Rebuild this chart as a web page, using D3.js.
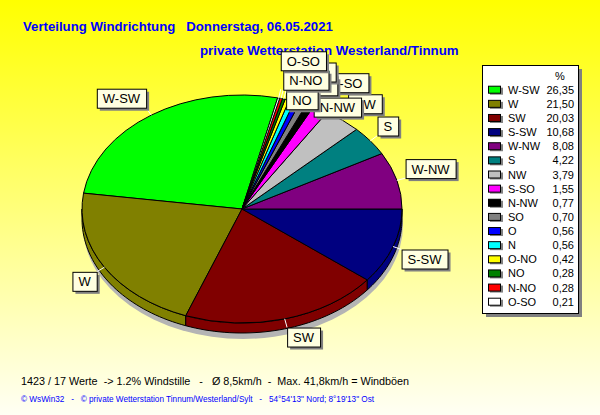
<!DOCTYPE html>
<html>
<head>
<meta charset="utf-8">
<script src="https://cdn.jsdelivr.net/npm/d3@7"></script>
<style>
html, body { margin: 0; padding: 0; overflow: hidden; }
svg { display: block; font-family: "Liberation Sans", Arial, sans-serif; }
</style>
</head>
<body>
<svg id="chart" width="600" height="415"></svg>
<script>
// Daten
var richtungen = ["W-SW", "W", "SW", "S-SW", "W-NW", "S", "NW", "S-SO", "N-NW", "SO", "O", "N", "O-NO", "NO", "N-NO", "O-SO"];
var anteile = [26.35, 21.50, 20.03, 10.68, 8.08, 4.22, 3.79, 1.55, 0.77, 0.70, 0.56, 0.56, 0.42, 0.28, 0.28, 0.21];
var farben = ["#00ff00", "#808000", "#800000", "#000080", "#800080", "#008080", "#c0c0c0", "#ff00ff",
              "#000000", "#808080", "#0000ff", "#00ffff", "#ffff00", "#008000", "#ff0000", "#ffffff"];
var titel = "Verteilung Windrichtung   Donnerstag, 06.05.2021";
var untertitel = "private Wetterstation Westerland/Tinnum";
var fuss1 = "1423 / 17 Werte  -> 1.2% Windstille   -   \u00d8 8,5km/h  -  Max. 41,8km/h = Windb\u00f6en";
var fuss2 = "\u00a9 WsWin32   -   \u00a9 private Wetterstation Tinnum/Westerland/Sylt   -   54\u00b054'13\" Nord; 8\u00b019'13\" Ost";

var svg = d3.select("#chart");
var W = 600, H = 415;

// Hintergrund
var grad = svg.append("defs").append("linearGradient")
    .attr("id", "bg").attr("x1", 0).attr("y1", 0).attr("x2", 0).attr("y2", 1);
grad.append("stop").attr("offset", "0%").attr("stop-color", "#ffff00");
grad.append("stop").attr("offset", "100%").attr("stop-color", "#fffff4");
svg.append("rect").attr("width", W).attr("height", H).attr("fill", "url(#bg)");

// Titel
svg.append("text").attr("x", 23).attr("y", 31)
    .style("white-space", "pre")
    .attr("font-size", 13.2).attr("font-weight", "bold").attr("fill", "#0000ff")
    .text(titel);
svg.append("text").attr("x", 200).attr("y", 55)
    .attr("font-size", 13.3).attr("font-weight", "bold").attr("fill", "#0000ff")
    .text(untertitel);

// Torte (3D, elliptisch)
var cx = 242, cy = 209, rx = 160, ry = 114, tiefe = 10;
var startIdx = 4; // W-NW beginnt bei 3 Uhr, gegen den Uhrzeigersinn
var total = d3.sum(anteile);
var vorlauf = d3.sum(anteile.slice(0, startIdx)) / total * 2 * Math.PI;
var pie = d3.pie().sort(null)
    .startAngle(Math.PI / 2 + vorlauf)
    .endAngle(Math.PI / 2 + vorlauf - 2 * Math.PI);
var arcs = pie(anteile);
arcs.forEach(function (d, i) {
    var a = Math.PI / 2 - d.startAngle, b = Math.PI / 2 - d.endAngle;
    var k = Math.floor(a / (2 * Math.PI));
    d.t0 = a - k * 2 * Math.PI;
    d.t1 = b - k * 2 * Math.PI;
    d.name = richtungen[i];
    d.color = farben[i];
});

function px(t, r) { return cx + r * Math.cos(t); }
function py(t, r) { return cy - r * Math.sin(t); }

// Schatten
svg.append("ellipse").attr("cx", cx + 1).attr("cy", cy + tiefe + 6)
    .attr("rx", rx).attr("ry", ry).attr("fill", "#b4b4b4");

// Seitenwand
var line = d3.line();
var seite = svg.append("g");
arcs.forEach(function (d) {
    [[Math.PI, 2 * Math.PI], [3 * Math.PI, 4 * Math.PI]].forEach(function (w) {
        var a = Math.max(d.t0, w[0]), b = Math.min(d.t1, w[1]);
        if (b <= a) return;
        var ts = d3.range(0, 41).map(function (j) { return a + (b - a) * j / 40; });
        var pts = ts.map(function (t) { return [px(t, rx), py(t, ry)]; });
        ts.slice().reverse().forEach(function (t) { pts.push([px(t, rx), py(t, ry) + tiefe]); });
        seite.append("path").attr("d", line(pts) + "Z")
            .attr("fill", d.color).attr("stroke", "#000").attr("stroke-width", 1);
    });
});

// Oberseite
var arc = d3.arc().innerRadius(0).outerRadius(rx);
svg.append("g")
    .attr("transform", "translate(" + cx + "," + cy + ") scale(1," + (ry / rx) + ")")
    .selectAll("path").data(arcs).enter().append("path")
    .attr("d", arc)
    .attr("fill", function (d) { return d.color; })
    .attr("stroke", "#000").attr("stroke-width", 1)
    .attr("vector-effect", "non-scaling-stroke");

// Beschriftungen
var pfeil = 9, boxH = 19, fs = 13;
var mess = svg.append("text").attr("font-size", fs);
var marks = arcs.map(function (d) {
    mess.text(d.name);
    var w = mess.node().getComputedTextLength() + 12;
    var tm = (d.t0 + d.t1) / 2;
    var ex = px(tm, rx + pfeil), ey = py(tm, ry + pfeil);
    return {
        name: d.name, tm: tm, w: w,
        fx: px(tm, rx), fy: py(tm, ry), ex: ex, ey: ey,
        x: Math.cos(tm) >= 0 ? ex : ex - w,
        y: Math.sin(tm) >= 0 ? ey - boxH : ey
    };
});
mess.remove();

function overlap(a, b) {
    return a.x < b.x + b.w && b.x < a.x + a.w && a.y < b.y + boxH && b.y < a.y + boxH;
}
var schritte = [0, -1, 1, -2, 2, -3, 3];
marks.forEach(function (m, i) {
    if (i === 0) return;
    var prev = marks[i - 1], y0 = m.y;
    for (var s = 0; s < schritte.length; s++) {
        m.y = y0 + schritte[s] * boxH / 2;
        if (!overlap(m, prev)) break;
    }
});

svg.append("g").selectAll("line").data(marks).enter().append("line")
    .attr("x1", function (m) { return m.fx; }).attr("y1", function (m) { return m.fy; })
    .attr("x2", function (m) { return m.ex; }).attr("y2", function (m) { return m.ey; })
    .attr("stroke", "#ffffff").attr("stroke-width", 1);

var mg = svg.append("g").selectAll("g").data(marks).enter().append("g");
mg.append("rect")
    .attr("x", function (m) { return m.x + 3; }).attr("y", function (m) { return m.y + 3; })
    .attr("width", function (m) { return m.w; }).attr("height", boxH)
    .attr("fill", "#808080");
mg.append("rect")
    .attr("x", function (m) { return m.x + 0.5; }).attr("y", function (m) { return m.y + 0.5; })
    .attr("width", function (m) { return m.w; }).attr("height", boxH)
    .attr("fill", "#ffffe1").attr("stroke", "#000").attr("stroke-width", 1);
mg.append("text")
    .attr("x", function (m) { return m.x + m.w / 2; })
    .attr("y", function (m) { return m.y + boxH / 2 + 5; })
    .attr("text-anchor", "middle").attr("font-size", fs).attr("fill", "#000")
    .text(function (m) { return m.name; });

// Legende
var lx = 482, ly = 65, lw = 96, lh = 248;
svg.append("rect").attr("x", lx + 4).attr("y", ly + 4).attr("width", lw).attr("height", lh).attr("fill", "#808080");
svg.append("rect").attr("x", lx + 0.5).attr("y", ly + 0.5).attr("width", lw).attr("height", lh)
    .attr("fill", "#ffffff").attr("stroke", "#000");
svg.append("text").attr("x", 560).attr("y", 80).attr("text-anchor", "middle")
    .attr("font-size", 11).text("%");
var yRow = d3.scalePoint().domain(richtungen).range([89.7, 301.7]);
var fmt = d3.format(".2f");
var rows = svg.append("g").selectAll("g").data(richtungen).enter().append("g")
    .attr("transform", function (d) { return "translate(0," + yRow(d) + ")"; });
rows.append("rect").attr("x", 490).attr("y", -2).attr("width", 13).attr("height", 7).attr("fill", "#808080");
rows.append("rect").attr("x", 488.5).attr("y", -3.5).attr("width", 12).attr("height", 7)
    .attr("fill", function (d, i) { return farben[i]; }).attr("stroke", "#000");
rows.append("text").attr("x", 508).attr("y", 4).attr("font-size", 11)
    .text(function (d) { return d; });
rows.append("text").attr("x", 574).attr("y", 4).attr("font-size", 11).attr("text-anchor", "end")
    .text(function (d, i) { return fmt(anteile[i]).replace(".", ","); });

// Fußzeilen
svg.append("text").attr("x", 21).attr("y", 385).style("white-space", "pre")
    .attr("font-size", 10.8).attr("fill", "#000").text(fuss1);
svg.append("text").attr("x", 21).attr("y", 402).style("white-space", "pre")
    .attr("font-size", 8.2).attr("fill", "#0000ff").text(fuss2);
</script>
</body>
</html>
